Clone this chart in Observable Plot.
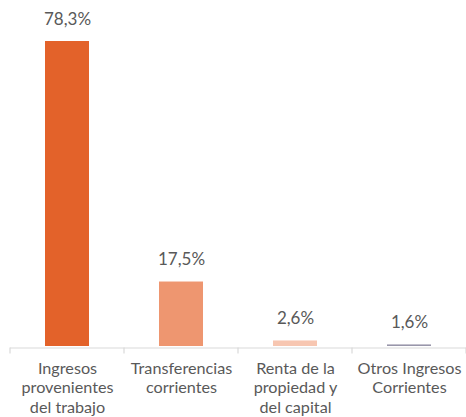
<!DOCTYPE html>
<html>
<head>
<meta charset="utf-8">
<script src="https://cdn.jsdelivr.net/npm/d3@7"></script>
<script src="https://cdn.jsdelivr.net/npm/@observablehq/plot@0.6"></script>
<style>
  html, body { margin: 0; padding: 0; background: #fff; }
  #chart svg { display: block; }
</style>
</head>
<body>
<div id="chart"></div>
<script>
const categories = [
  "Ingresos\nprovenientes\ndel trabajo",
  "Transferencias\ncorrientes",
  "Renta de la\npropiedad y\ndel capital",
  "Otros Ingresos\nCorrientes"
];
const values = [78.3, 17.5, 2.6, 1.6];
const valueLabels = ["78,3%", "17,5%", "2,6%", "1,6%"];
const colors = ["#E3622A", "#EE9670", "#F7C6B1", "#9896AA"];
const axisMin = 1.2;

const data = categories.map((c, i) => ({cat: c, value: values[i], label: valueLabels[i], color: colors[i]}));

const W = 466, H = 417;
const font = "Lato, 'Open Sans', sans-serif";

const plot = Plot.plot({
  width: W,
  height: H,
  marginLeft: 10,
  marginRight: 0,
  marginTop: 41,
  marginBottom: 71,
  style: {fontFamily: font, color: "#595959", background: "#fff", overflow: "visible"},
  x: {domain: categories, paddingInner: 0.614, paddingOuter: 0.307, label: null},
  y: {domain: [axisMin, 78.3], clamp: true, axis: null},
  marks: [
    Plot.barY(data, {x: "cat", y: "value", fill: "color"}),
    Plot.ruleY([axisMin], {stroke: "#d9d9d9", strokeWidth: 1.2, dy: 1.5}),
    Plot.text(data, {x: "cat", y: "value", text: "label", dy: -22, fontSize: 17, fill: "#595959"}),
    Plot.axisX({tickSize: 0, tickPadding: 14, fontSize: 16.2, lineHeight: 1.19, fill: "#595959", label: null})
  ]
});

document.getElementById("chart").appendChild(plot);

// band-boundary tick marks derived from the plot's x scale
const xs = plot.scale("x");
const ys = plot.scale("y");
const y0 = ys.apply(axisMin) + 1.5;
const starts = categories.map(c => xs.apply(c) - (xs.step - xs.bandwidth) / 2);
starts.push(starts[starts.length - 1] + xs.step);
d3.select(plot).append("g")
  .attr("stroke", "#d9d9d9").attr("stroke-width", 1.2)
  .selectAll("line").data(starts).join("line")
  .attr("x1", d => d).attr("x2", d => d)
  .attr("y1", y0).attr("y2", y0 + 6);
</script>
</body>
</html>
